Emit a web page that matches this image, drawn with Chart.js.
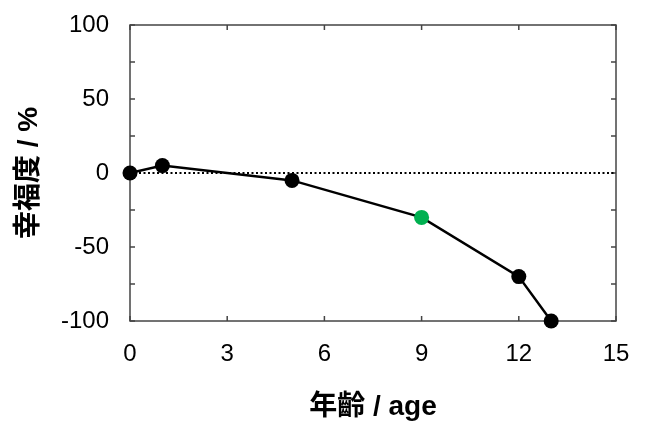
<!DOCTYPE html>
<html>
<head>
<meta charset="utf-8">
<script src="https://cdn.jsdelivr.net/npm/chart.js@4/dist/chart.umd.min.js"></script>
<style>
  html, body { margin: 0; padding: 0; background: #fff; }
  #wrap { width: 650px; height: 433px; }
</style>
</head>
<body>
<div id="wrap"><canvas id="chart" width="650" height="433"></canvas></div>
<script>
// data
const ages = [0, 1, 5, 9, 12, 13];
const happiness = [0, 5, -5, -30, -70, -100];
const pointColors = ['#000', '#000', '#000', '#00b050', '#000', '#000'];
const zeroLineX = [0, 15];
const zeroLineY = [0, 0];

const fontFamily = '"Liberation Sans", Arial, "Noto Sans CJK JP", sans-serif';

// frame and inward ticks on all four sides
const framePlugin = {
    id: 'frame',
    beforeDatasetsDraw(chart) {
        const { ctx, chartArea: a, scales } = chart;
        ctx.save();
        ctx.strokeStyle = '#444';
        ctx.lineWidth = 1.5;
        ctx.strokeRect(a.left, a.top, a.right - a.left, a.bottom - a.top);
        const len = 5;
        ctx.beginPath();
        scales.x.ticks.forEach(t => {
            const px = scales.x.getPixelForValue(t.value);
            ctx.moveTo(px, a.bottom); ctx.lineTo(px, a.bottom - len);
            ctx.moveTo(px, a.top); ctx.lineTo(px, a.top + len);
        });
        scales.y.ticks.forEach(t => {
            const py = scales.y.getPixelForValue(t.value);
            ctx.moveTo(a.left, py); ctx.lineTo(a.left + len, py);
            ctx.moveTo(a.right, py); ctx.lineTo(a.right - len, py);
        });
        ctx.stroke();
        ctx.restore();
    }
};

new Chart(document.getElementById('chart'), {
    type: 'scatter',
    data: {
        datasets: [{
            data: ages.map((a, i) => ({ x: a, y: happiness[i] })),
            showLine: true,
            borderColor: '#000',
            borderWidth: 2.5,
            pointRadius: 7.5,
            pointBackgroundColor: pointColors,
            pointBorderColor: pointColors,
            pointBorderWidth: 0,
            clip: false,
            order: 1
        }, {
            data: zeroLineX.map((a, i) => ({ x: a, y: zeroLineY[i] })),
            showLine: true,
            borderColor: '#000',
            borderWidth: 2,
            borderDash: [2, 2.5],
            pointRadius: 0,
            order: 2
        }]
    },
    options: {
        responsive: false,
        animation: false,
        plugins: { legend: { display: false }, tooltip: { enabled: false } },
        layout: { padding: { left: 0, right: 34, top: 25, bottom: 0 } },
        scales: {
            x: {
                type: 'linear',
                min: 0, max: 15,
                grid: { drawOnChartArea: false, drawTicks: false },
                border: { display: false },
                ticks: { stepSize: 3, autoSkip: false, padding: 19, color: '#000',
                         font: { family: fontFamily, size: 24 } },
                title: { display: true, text: '年齡 / age', color: '#000',
                         font: { family: fontFamily, size: 28, weight: 'bold' },
                         padding: { top: 0, bottom: 9 } },
                afterFit(scale) {
                    scale.height = 112;
                    scale.paddingLeft = 0;
                    scale.paddingRight = 0;
                }
            },
            y: {
                min: -100, max: 100,
                grid: { drawOnChartArea: false, drawTicks: false },
                border: { display: false },
                ticks: { stepSize: 25, autoSkip: false, padding: 21, color: '#000',
                         font: { family: fontFamily, size: 24 },
                         callback: v => (v % 50 === 0 ? v : '') },
                title: { display: true, text: '幸福度 / %', color: '#000',
                         font: { family: fontFamily, size: 28, weight: 'bold' },
                         padding: { top: 12, bottom: 0 } },
                afterFit(scale) {
                    scale.width = 130;
                    scale.paddingTop = 0;
                    scale.paddingBottom = 0;
                }
            }
        }
    },
    plugins: [framePlugin]
});
</script>
</body>
</html>
